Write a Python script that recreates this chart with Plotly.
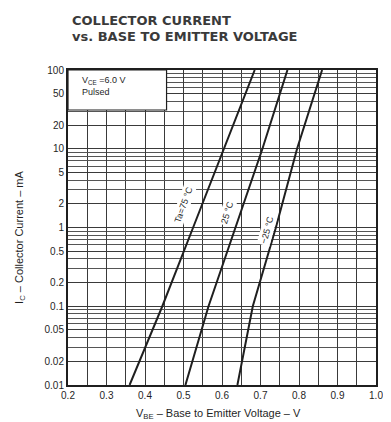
import math
import plotly.graph_objects as go

# ---------------------------------------------------------------------------
# Data (VBE in volts, IC in mA)
# ---------------------------------------------------------------------------
IC_MA = [0.01, 0.1, 1, 10, 100]
VBE_75C = [0.36, 0.445, 0.525, 0.605, 0.685]
VBE_25C = [0.505, 0.565, 0.635, 0.705, 0.77]
VBE_M25C = [0.64, 0.68, 0.74, 0.795, 0.86]

CURVE_LABELS = ["Ta=75 °C", "25 °C", "−25 °C"]

Y_TICKS = [0.01, 0.02, 0.05, 0.1, 0.2, 0.5, 1, 2, 5, 10, 20, 50, 100]
Y_TICK_TEXT = ["0.01", "0.02", "0.05", "0.1", "0.2", "0.5", "1", "2", "5", "10", "20", "50", "100"]
X_TICKS = [0.2, 0.3, 0.4, 0.5, 0.6, 0.7, 0.8, 0.9, 1.0]
X_TICK_TEXT = ["0.2", "0.3", "0.4", "0.5", "0.6", "0.7", "0.8", "0.9", "1.0"]

INK = "#1f1f1f"
GRID = "#3a3a3a"
FONT = "Liberation Sans, Arial"

fig = go.Figure()

for vbe, name in zip([VBE_75C, VBE_25C, VBE_M25C], CURVE_LABELS):
    fig.add_trace(go.Scatter(
        x=vbe, y=IC_MA, mode="lines", name=name,
        line=dict(color=INK, width=2),
        showlegend=False, hoverinfo="skip",
    ))

# curve labels, written along each line on a white patch
# (annotation y on a log axis is given as log10 of the value)
label_pos = [(0.50, 1.93, -70), (0.613, 1.53, -73), (0.717, 0.93, -75)]
for (lx, ly, ang), txt in zip(label_pos, CURVE_LABELS):
    fig.add_annotation(
        x=lx, y=math.log10(ly), yref="y", xref="x", text=txt, showarrow=False,
        textangle=ang, bgcolor="white", borderpad=1,
        font=dict(family=FONT, size=9, color=INK),
    )

# condition box in the upper-left corner
fig.add_shape(type="rect", xref="paper", yref="paper",
              x0=0, x1=0.32, y0=0.873, y1=1.0,
              fillcolor="white", line=dict(color=INK, width=1.2), layer="above")
fig.add_annotation(
    xref="paper", yref="paper", x=0.04, y=0.99, xanchor="left", yanchor="top",
    text="V<sub>CE</sub> =6.0 V<br>Pulsed", showarrow=False, align="left",
    font=dict(family=FONT, size=9, color=INK),
)

# title (two lines, placed separately to keep them tight)
for txt, shift in [("COLLECTOR CURRENT", 59), ("vs. BASE TO EMITTER VOLTAGE", 43)]:
    fig.add_annotation(
        xref="paper", yref="paper", x=0, xshift=2, y=1.0, yshift=shift,
        xanchor="left", yanchor="top", text=f"<b>{txt}</b>", showarrow=False,
        font=dict(family="DejaVu Sans", size=13, color="#3a3a3a"),
    )

# axis titles
fig.add_annotation(
    xref="paper", yref="paper", x=-0.156, y=0.47, xanchor="center", yanchor="middle",
    textangle=-90, text="I<sub>C</sub> – Collector Current – mA", showarrow=False,
    font=dict(family=FONT, size=11, color=INK),
)
fig.add_annotation(
    xref="paper", yref="paper", x=0.49, y=0, yshift=-20, xanchor="center", yanchor="top",
    text="V<sub>BE</sub> – Base to Emitter Voltage – V", showarrow=False,
    font=dict(family=FONT, size=11, color=INK),
)

# page body keeps an 8 px margin, so the figure is laid out 8 px smaller
fig.update_layout(
    width=383, height=414,
    margin=dict(l=60, r=8, t=62, b=37),
    plot_bgcolor="white", paper_bgcolor="white",
    font=dict(family=FONT, size=10, color=INK),
)
fig.update_xaxes(
    range=[0.2, 1.0], tickvals=X_TICKS, ticktext=X_TICK_TEXT,
    showgrid=True, gridcolor=GRID, gridwidth=1.4,
    minor=dict(dtick=0.05, showgrid=True, gridcolor=GRID, gridwidth=1.2),
    showline=True, linecolor=INK, linewidth=2, mirror=True,
    zeroline=False, ticks="", tickfont=dict(size=10),
)
fig.update_yaxes(
    type="log", range=[-2, 2], tickvals=Y_TICKS, ticktext=Y_TICK_TEXT,
    showgrid=True, gridcolor=GRID, gridwidth=1.4,
    minor=dict(dtick="D1", showgrid=True, gridcolor="#555555", gridwidth=1),
    showline=True, linecolor=INK, linewidth=2, mirror=True,
    zeroline=False, ticks="", tickfont=dict(size=10),
)

fig.write_html("out.html")
